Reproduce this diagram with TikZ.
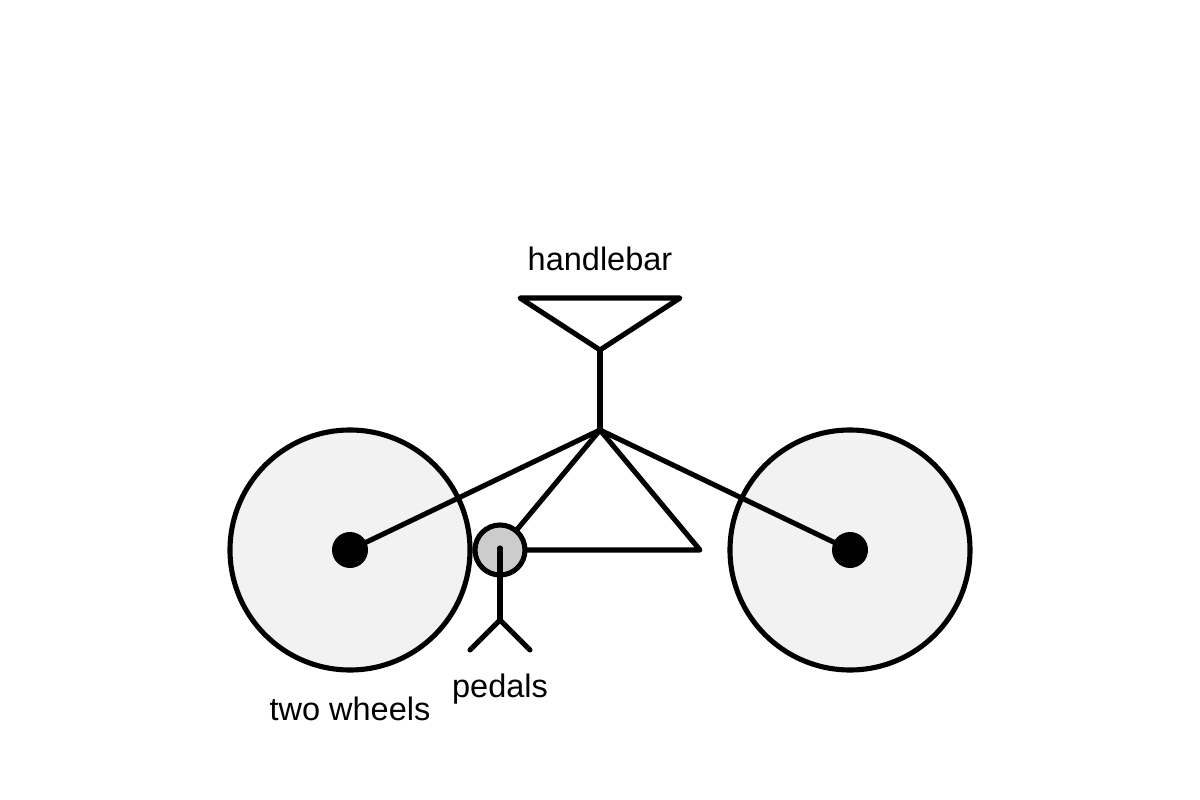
\documentclass[tikz,border=0pt]{standalone}
\usepackage{fontspec}
\setmainfont{Liberation Sans}
\begin{document}
\begin{tikzpicture}[x=0.02cm,y=-0.02cm,
  ln/.style={line width=2.9pt,line cap=round,line join=round},
  lbl/.style={font=\fontsize{18.5pt}{20pt}\selectfont,inner sep=0pt}]
\useasboundingbox (0,0) rectangle (1200,800);
\coordinate (lw) at (350,550);
\coordinate (rw) at (850,550);
\coordinate (apex) at (600,430);
\coordinate (br) at (700,550);
\coordinate (stemtop) at (600,350);
\coordinate (hl) at (520,298);
\coordinate (hr) at (680,298);
\coordinate (pc) at (500,550);
\coordinate (pb) at (500,620);
\coordinate (pl) at (470,650);
\coordinate (pr) at (530,650);
\draw[ln,fill={rgb,255:red,242;green,242;blue,242}] (lw) circle (120);
\draw[ln,fill={rgb,255:red,242;green,242;blue,242}] (rw) circle (120);
\draw[ln] (lw) -- (apex) -- (rw);
\draw[ln] (apex) -- (br) -- (pc);
\draw[ln] (apex) -- (pc);
\draw[ln] (apex) -- (stemtop);
\draw[ln] (hl) -- (hr) -- (stemtop) -- cycle;
\fill (lw) circle (18);
\fill (rw) circle (18);
\draw[ln,fill={rgb,255:red,204;green,204;blue,204}] (pc) circle (25);
\draw[ln] (500,548) -- (pb);
\draw[ln] (pl) -- (pb) -- (pr);
\node[lbl] (t1) at (600,259) {handlebar};
\node[lbl] (t2) at (500,689) {pedals};
\node[lbl] (t3) at (350,709) {two wheels};
\end{tikzpicture}
\end{document}
